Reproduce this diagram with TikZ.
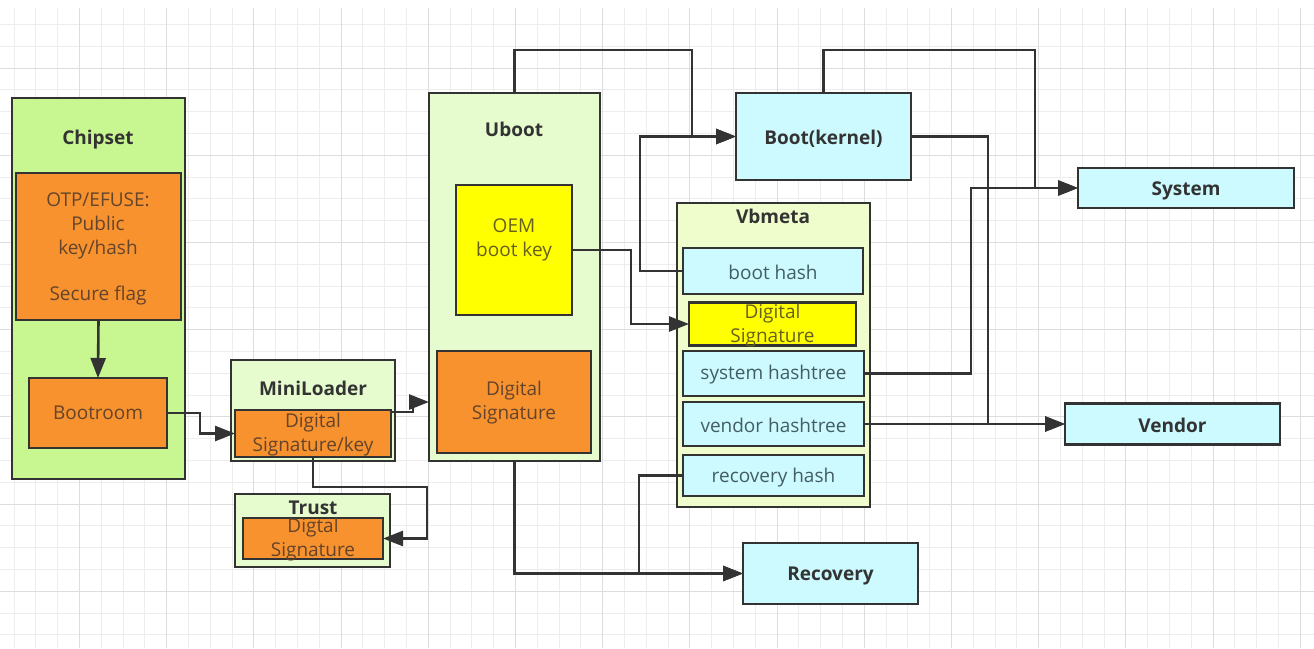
\documentclass[tikz,border=0pt]{standalone}
\usepackage{fontspec}
\setmainfont{Open Sans}
\usetikzlibrary{arrows.meta,calc}
\definecolor{lime}{HTML}{C8F690}
\definecolor{pale}{HTML}{E6FCCE}
\definecolor{paley}{HTML}{EFFCCB}
\definecolor{orng}{HTML}{F7922F}
\definecolor{yel}{HTML}{FFFF00}
\definecolor{cyn}{HTML}{CCFAFF}
\definecolor{edge}{HTML}{333333}
\definecolor{txto}{HTML}{64442A}
\definecolor{txty}{HTML}{66601E}
\definecolor{txtc}{HTML}{435E62}
\definecolor{gmin}{HTML}{EDEDED}
\definecolor{gmaj}{HTML}{DDDDDD}
\tikzset{
  box/.style={draw=edge, line width=2.6pt, inner sep=0pt, outer sep=0pt, align=center},
  txt/.style={font=\fontsize{19}{24}\selectfont, align=center},
  ttl/.style={font=\fontsize{19}{22}\selectfont\bfseries, text=edge, align=center},
  arr/.style={draw=edge, line width=2.6pt, -{Triangle[length=20pt,width=15pt]}},
}
\begin{document}
\begin{tikzpicture}[x=1pt,y=-1pt]
\useasboundingbox (0,0) rectangle (1314,648);
\fill[white] (0,0) rectangle (1314,648);
% grid
\foreach \i in {0,...,59} {\draw[gmin, line width=1pt] ({14+21.8*\i},8) -- ({14+21.8*\i},648);}
\foreach \i in {1,...,29} {\draw[gmin, line width=1pt] (0,{2.7+21.8*\i}) -- (1314,{2.7+21.8*\i});}
\foreach \i in {0,...,14} {\draw[gmaj, line width=1pt] ({79.4+87.2*\i},8) -- ({79.4+87.2*\i},648);}
\foreach \i in {0,...,6} {\draw[gmaj, line width=1pt] (0,{68.1+87.2*\i}) -- (1314,{68.1+87.2*\i});}

% Chipset
\node[box, fill=lime, minimum width=173pt, minimum height=381pt] (chipset) at (98.5,288.5) {};
\node[ttl] (chipsetl) at (98,140) {Chipset};
\node[box, fill=orng, minimum width=165pt, minimum height=147pt] (otp) at (98.5,246.5) {};
\node[txt, text=txto] (otpt) at (98,249) {OTP/EFUSE:\\Public\\key/hash\\[-2pt]\\Secure flag};
\node[box, fill=orng, minimum width=138pt, minimum height=70pt, txt, text=txto] (bootroom) at (98,413) {Bootroom};

% MiniLoader
\node[box, fill=pale, minimum width=164pt, minimum height=101pt] (mlo) at (313,410.5) {};
\node[ttl] (mlol) at (313,388) {MiniLoader};
\node[box, fill=orng, minimum width=156pt, minimum height=47pt] (mli) at (313,433.5) {};
\node[txt, text=txto] (mlit) at (313,435) {Digital\\Signature/key};

% Trust
\node[box, fill=pale, minimum width=155pt, minimum height=73pt] (trusto) at (312.5,530.5) {};
\node[ttl] (trustl) at (313,508) {Trust};
\node[box, fill=orng, minimum width=140pt, minimum height=41pt] (trusti) at (313,538.5) {};
\node[txt, text=txto] (trustt) at (313,540) {Digtal\\Signature};

% Uboot
\node[box, fill=pale, minimum width=171pt, minimum height=368pt] (uboot) at (514.5,277) {};
\node[ttl] (ubootl) at (514,129) {Uboot};
\node[box, fill=yel, minimum width=116pt, minimum height=130pt] (oem) at (514,250) {};
\node[txt, text=txty] (oemt) at (514,240) {OEM\\boot key};
\node[box, fill=orng, minimum width=154pt, minimum height=102pt] (ubds) at (514,402) {};
\node[txt, text=txto] (ubdst) at (514,403) {Digital\\Signature};

% Boot
\node[box, fill=cyn, minimum width=175pt, minimum height=87pt] (boot) at (823.5,136.5) {};
\node[ttl] (bootl) at (823.5,139) {Boot(kernel)};

% Vbmeta
\node[box, fill=paley, minimum width=193pt, minimum height=304pt] (vbm) at (773.5,355) {};
\node[ttl] (vbml) at (773,216) {Vbmeta};
\node[box, fill=cyn, minimum width=180pt, minimum height=46pt] (bhash) at (773,271) {};
\node[txt, text=txtc] (bhasht) at (773,272) {boot hash};
\node[box, fill=yel, minimum width=167pt, minimum height=43pt] (vds) at (772.5,324) {};
\node[txt, text=txty] (vdst) at (772.5,326) {Digital\\Signature};
\node[box, fill=cyn, minimum width=181pt, minimum height=45pt] (shash) at (773.5,373.5) {};
\node[txt, text=txtc] (shasht) at (773.5,375) {system hashtree};
\node[box, fill=cyn, minimum width=181pt, minimum height=44pt] (vhash) at (773.5,424) {};
\node[txt, text=txtc] (vhasht) at (773.5,425) {vendor hashtree};
\node[box, fill=cyn, minimum width=181pt, minimum height=41pt] (rhash) at (773.5,475.5) {};
\node[txt, text=txtc] (rhasht) at (773.5,478) {recovery hash};

% right side
\node[box, fill=cyn, minimum width=216pt, minimum height=40pt] (system) at (1186,188) {};
\node[ttl] (systeml) at (1186,190.5) {System};
\node[box, fill=cyn, minimum width=215pt, minimum height=41pt] (vendor) at (1172.5,424) {};
\node[ttl] (vendorl) at (1172.5,425.5) {Vendor};
\node[box, fill=cyn, minimum width=175pt, minimum height=61pt] (recovery) at (830.5,573.5) {};
\node[ttl] (recoveryl) at (830.5,576) {Recovery};

% connectors
\draw[arr] (otp.south) -- (bootroom.north);
\draw[arr] (bootroom.east) -- (200,413) |- (mli.west);
\draw[arr] (mli.south) |- (427,487) |- (trusti.east);
\draw[arr] (mli.east |- 0,412) -- (413,412) |- (uboot.west |- ubds.center);
\draw[arr] (uboot.north) |- (692,50) |- (boot.west);
\draw[arr] (bhash.west) -- (640,271) |- (boot.west);
\draw[arr] (oem.east) -- (631,250) |- (vds.west);
\draw[arr] (boot.north) |- (1035,50) |- (system.west);
\draw[arr] (shash.east) -- (971,373.5) |- (system.west);
\draw[arr] (boot.east) -- (988,136.5) |- (vendor.west);
\draw[arr] (vhash.east) -- (vendor.west);
\draw[arr] (uboot.south) |- (recovery.west);
\draw[arr] (rhash.west) -- (639,475.5) |- (recovery.west);
\end{tikzpicture}
\end{document}
